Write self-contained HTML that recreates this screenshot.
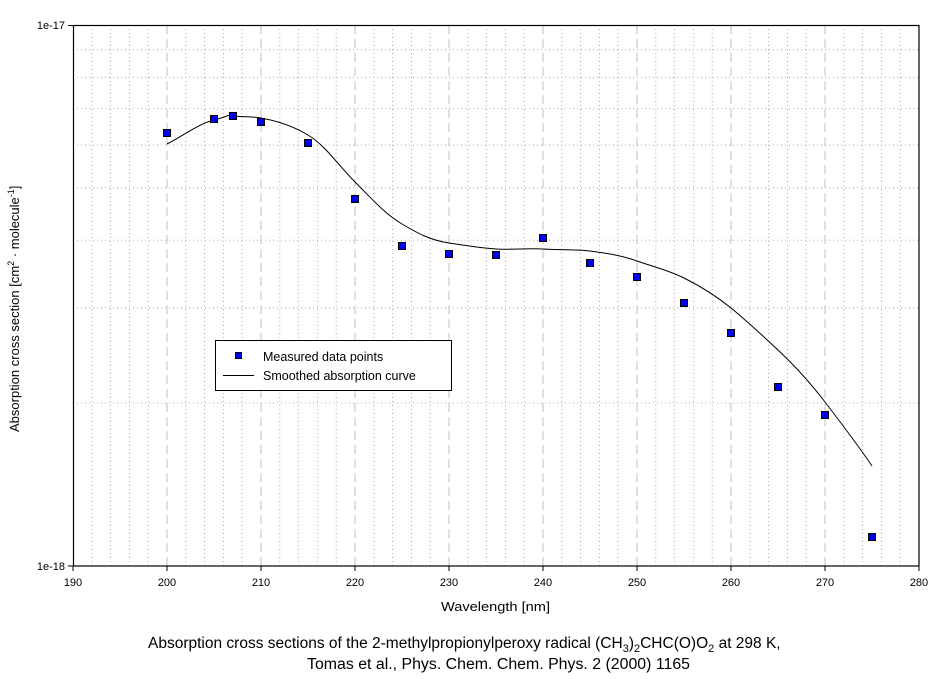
<!DOCTYPE html>
<html><head><meta charset="utf-8"><style>
body{margin:0;background:#fff;}
svg{display:block;font-family:"Liberation Sans",Arial,sans-serif;}
</style></head><body>
<svg width="944" height="679" viewBox="0 0 944 679" xmlns="http://www.w3.org/2000/svg">
<rect width="944" height="679" fill="#fff"/>
<g stroke="#aaa" stroke-width="1" stroke-dasharray="1,3" fill="none">
<path d="M91.8 25V566M110.6 25V566M129.4 25V566M148.2 25V566M185.8 25V566M204.6 25V566M223.4 25V566M242.2 25V566M279.8 25V566M298.6 25V566M317.4 25V566M336.2 25V566M373.8 25V566M392.6 25V566M411.4 25V566M430.2 25V566M467.8 25V566M486.6 25V566M505.4 25V566M524.2 25V566M561.8 25V566M580.6 25V566M599.4 25V566M618.2 25V566M655.8 25V566M674.6 25V566M693.4 25V566M712.2 25V566M749.8 25V566M768.6 25V566M787.4 25V566M806.2 25V566M843.8 25V566M862.6 25V566M881.4 25V566M900.2 25V566"/>
<path d="M73 403.1H919M73 307.9H919M73 240.3H919M73 187.9H919M73 145H919M73 108.8H919M73 77.4H919M73 49.8H919"/>
</g>
<g stroke="#c0c0c0" stroke-width="1" stroke-dasharray="9,5" fill="none">
<path d="M167 25V566M261 25V566M355 25V566M449 25V566M543 25V566M637 25V566M731 25V566M825 25V566"/>
</g>
<rect x="73.5" y="25.5" width="845.5" height="540.5" fill="none" stroke="#000" stroke-width="1.2"/>
<g stroke="#000"><path d="M68 25.5H73M68 566H73M73 566V571M167 566V571M261 566V571M355 566V571M449 566V571M543 566V571M637 566V571M731 566V571M825 566V571M919 566V571"/></g>
<g font-size="11" fill="#000">
<text x="65" y="29" text-anchor="end">1e-17</text>
<text x="65" y="570" text-anchor="end">1e-18</text>
<g text-anchor="middle">
<text x="73" y="586">190</text><text x="167" y="586">200</text><text x="261" y="586">210</text><text x="355" y="586">220</text><text x="449" y="586">230</text><text x="543" y="586">240</text><text x="637" y="586">250</text><text x="731" y="586">260</text><text x="825" y="586">270</text><text x="919" y="586">280</text>
</g>
<text x="441" y="611" font-size="13" textLength="109" lengthAdjust="spacingAndGlyphs">Wavelength [nm]</text>
<text transform="translate(19,432) rotate(-90)" font-size="13">Absorption cross section [cm<tspan font-size="9" dy="-5">2</tspan><tspan dy="5"> · molecule</tspan><tspan font-size="9" dy="-5">-1</tspan><tspan dy="5">]</tspan></text>
<text x="148" y="648" font-size="15.5">Absorption cross sections of the 2-methylpropionylperoxy radical (CH<tspan font-size="11" dy="4">3</tspan><tspan dy="-4">)</tspan><tspan font-size="11" dy="4">2</tspan><tspan dy="-4">CHC(O)O</tspan><tspan font-size="11" dy="4">2</tspan><tspan dy="-4"> at 298 K,</tspan></text>
<text x="307" y="669" font-size="15.5" textLength="383" lengthAdjust="spacingAndGlyphs">Tomas et al., Phys. Chem. Chem. Phys. 2 (2000) 1165</text>
</g>
<path d="M167 144 C183 136,198 124,214 120 S225 115,233 116 S250 116,261 118 S290 124,308 135 S338 165,355 182 S385 214,402 224 S430 240,449 243 S480 248,496 249 S530 248,543 249 S575 249,590 251 S620 255,637 261 S668 270,684 278 S715 295,731 308 S762 335,778 350 S812 385,825 402 S860 448,872 466" fill="none" stroke="#000" stroke-width="1"/>
<g fill="#0000ee" stroke="#000" stroke-width="1">
<rect x="163.5" y="129.5" width="7" height="7"/>
<rect x="210.5" y="115.5" width="7" height="7"/>
<rect x="229.5" y="112.5" width="7" height="7"/>
<rect x="257.5" y="118.5" width="7" height="7"/>
<rect x="304.5" y="139.5" width="7" height="7"/>
<rect x="351.5" y="195.5" width="7" height="7"/>
<rect x="398.5" y="242.5" width="7" height="7"/>
<rect x="445.5" y="250.5" width="7" height="7"/>
<rect x="492.5" y="251.5" width="7" height="7"/>
<rect x="539.5" y="234.5" width="7" height="7"/>
<rect x="586.5" y="259.5" width="7" height="7"/>
<rect x="633.5" y="273.5" width="7" height="7"/>
<rect x="680.5" y="299.5" width="7" height="7"/>
<rect x="727.5" y="329.5" width="7" height="7"/>
<rect x="774.5" y="383.5" width="7" height="7"/>
<rect x="821.5" y="411.5" width="7" height="7"/>
<rect x="868.5" y="533.5" width="7" height="7"/>
</g>
<rect x="215.5" y="340.5" width="236" height="50" fill="#fff" stroke="#000" stroke-width="1"/>
<rect x="235.5" y="352.5" width="6" height="6" fill="#0000ee" stroke="#000"/>
<line x1="223" y1="375.5" x2="254" y2="375.5" stroke="#000"/>
<text x="263" y="361" font-size="12.5">Measured data points</text>
<text x="263" y="380" font-size="12.5">Smoothed absorption curve</text>
</svg>
</body></html>
